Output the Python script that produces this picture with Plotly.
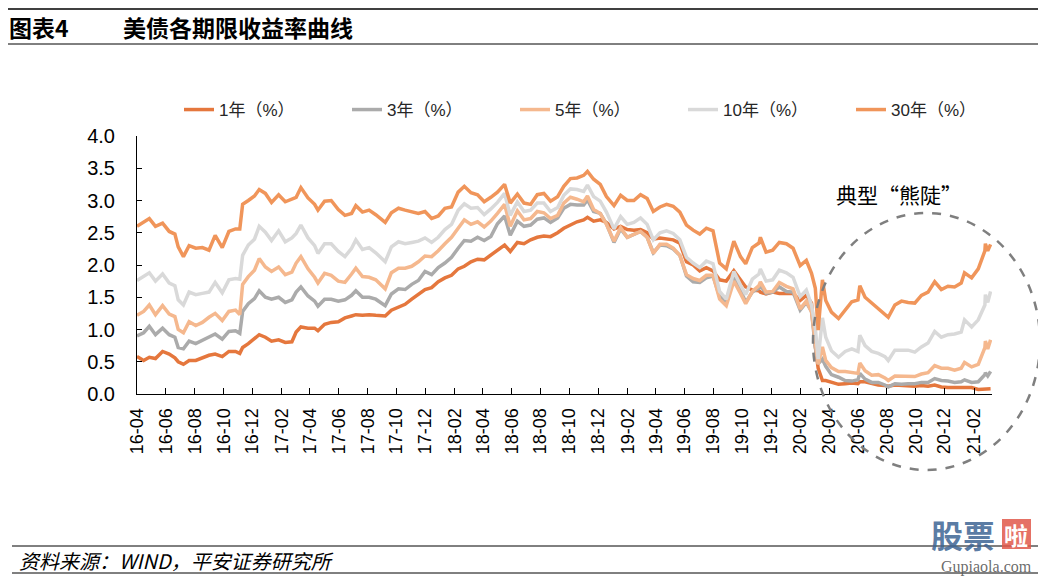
import plotly.graph_objects as go

dates = [
    "2016-04-01", "2016-04-15", "2016-04-27", "2016-05-10", "2016-05-25", "2016-06-08", "2016-06-20", "2016-06-27",
    "2016-07-08", "2016-07-20", "2016-08-03", "2016-08-17", "2016-08-31", "2016-09-13", "2016-09-28", "2016-10-12",
    "2016-10-26", "2016-11-04", "2016-11-10", "2016-11-22", "2016-12-05", "2016-12-15", "2016-12-28", "2017-01-10",
    "2017-01-25", "2017-02-08", "2017-02-22", "2017-03-03", "2017-03-13", "2017-03-28", "2017-04-11", "2017-04-18",
    "2017-05-02", "2017-05-16", "2017-05-31", "2017-06-14", "2017-06-28", "2017-07-07", "2017-07-21", "2017-08-04",
    "2017-08-18", "2017-09-07", "2017-09-20", "2017-10-05", "2017-10-19", "2017-11-02", "2017-11-16", "2017-11-30",
    "2017-12-14", "2017-12-28", "2018-01-11", "2018-01-25", "2018-02-08", "2018-02-21", "2018-03-07", "2018-03-21",
    "2018-04-04", "2018-04-18", "2018-05-02", "2018-05-17", "2018-05-29", "2018-06-13", "2018-06-27", "2018-07-11",
    "2018-07-25", "2018-08-08", "2018-08-22", "2018-09-06", "2018-09-19", "2018-10-03", "2018-10-17", "2018-10-31",
    "2018-11-08", "2018-11-21", "2018-12-05", "2018-12-18", "2019-01-03", "2019-01-17", "2019-01-31", "2019-02-14",
    "2019-02-28", "2019-03-14", "2019-03-27", "2019-04-10", "2019-04-24", "2019-05-08", "2019-05-22", "2019-06-05",
    "2019-06-19", "2019-07-03", "2019-07-17", "2019-07-31", "2019-08-14", "2019-08-28", "2019-09-13", "2019-09-27",
    "2019-10-08", "2019-10-22", "2019-11-05", "2019-11-08", "2019-11-20", "2019-12-04", "2019-12-18", "2020-01-02",
    "2020-01-16", "2020-01-31", "2020-02-13", "2020-02-24", "2020-03-03", "2020-03-09", "2020-03-18", "2020-03-25",
    "2020-04-06", "2020-04-21", "2020-05-05", "2020-05-19", "2020-06-01", "2020-06-05", "2020-06-16", "2020-06-30",
    "2020-07-14", "2020-07-28", "2020-08-04", "2020-08-18", "2020-09-01", "2020-09-15", "2020-09-29", "2020-10-13",
    "2020-10-27", "2020-11-10", "2020-11-24", "2020-12-08", "2020-12-22", "2021-01-05", "2021-01-12", "2021-01-27",
    "2021-02-10", "2021-02-24", "2021-02-25", "2021-03-02", "2021-03-08",
]

y1 = [
    0.58, 0.52, 0.57, 0.55, 0.66, 0.62, 0.56, 0.50,
    0.46, 0.52, 0.52, 0.56, 0.60, 0.62, 0.58, 0.66,
    0.66, 0.63, 0.72, 0.78, 0.86, 0.92, 0.88, 0.82,
    0.84, 0.80, 0.81, 0.96, 1.04, 1.02, 1.02, 0.98,
    1.08, 1.11, 1.12, 1.18, 1.21, 1.23, 1.22, 1.23,
    1.22, 1.21, 1.30, 1.34, 1.39, 1.47, 1.54, 1.62,
    1.65, 1.74, 1.80, 1.84, 1.94, 1.98, 2.05, 2.09,
    2.08, 2.16, 2.24, 2.31, 2.21, 2.35, 2.33, 2.39,
    2.43, 2.45, 2.44, 2.50, 2.57, 2.62, 2.67, 2.70,
    2.74, 2.68, 2.70, 2.66, 2.56, 2.60, 2.55, 2.54,
    2.55, 2.50, 2.40, 2.42, 2.41, 2.39, 2.34, 2.05,
    2.00, 1.91, 1.96, 1.91, 1.77, 1.75, 1.91, 1.78,
    1.66, 1.61, 1.60, 1.58, 1.55, 1.58, 1.56, 1.56,
    1.56, 1.45, 1.53, 1.41, 0.73, 0.40, 0.21, 0.21,
    0.18, 0.15, 0.16, 0.17, 0.16, 0.19, 0.19, 0.16,
    0.14, 0.13, 0.12, 0.14, 0.13, 0.13, 0.12, 0.13,
    0.12, 0.14, 0.11, 0.10, 0.10, 0.10, 0.10, 0.10,
    0.07, 0.08, 0.08, 0.08, 0.08,
]

y3 = [
    0.90, 0.95, 1.05, 0.92, 1.02, 0.92, 0.88, 0.72,
    0.70, 0.82, 0.78, 0.83, 0.88, 0.93, 0.85, 0.97,
    0.98, 0.94, 1.28, 1.40, 1.48, 1.60, 1.50, 1.47,
    1.50, 1.42, 1.46, 1.58, 1.66, 1.52, 1.44, 1.36,
    1.47, 1.47, 1.44, 1.46, 1.53, 1.60, 1.50, 1.50,
    1.47, 1.37, 1.55, 1.63, 1.62, 1.70, 1.76, 1.90,
    1.85, 1.96, 2.03, 2.12, 2.26, 2.38, 2.37, 2.43,
    2.38, 2.44, 2.64, 2.76, 2.46, 2.68, 2.60, 2.62,
    2.71, 2.73, 2.66, 2.73, 2.88, 2.94, 2.93, 2.93,
    3.01, 2.83, 2.80, 2.64, 2.35, 2.56, 2.43, 2.48,
    2.52, 2.43, 2.19, 2.31, 2.30, 2.25, 2.15, 1.83,
    1.74, 1.73, 1.80, 1.83, 1.51, 1.44, 1.80, 1.62,
    1.42, 1.58, 1.64, 1.68, 1.56, 1.58, 1.66, 1.59,
    1.58, 1.30, 1.42, 1.28, 0.73, 0.47, 0.54, 0.43,
    0.30, 0.26, 0.21, 0.20, 0.22, 0.32, 0.23, 0.18,
    0.18, 0.14, 0.11, 0.16, 0.15, 0.16, 0.16, 0.18,
    0.18, 0.24, 0.21, 0.20, 0.18, 0.19, 0.22, 0.18,
    0.19, 0.30, 0.33, 0.28, 0.35,
]

y5 = [
    1.22, 1.28, 1.38, 1.23, 1.37, 1.24, 1.20, 1.00,
    0.95, 1.12, 1.06, 1.11, 1.19, 1.25, 1.14, 1.28,
    1.30, 1.23, 1.70, 1.82, 1.92, 2.10, 1.97, 1.90,
    1.97, 1.85, 1.89, 2.03, 2.13, 1.94, 1.81, 1.72,
    1.87, 1.84, 1.75, 1.73, 1.86, 1.95, 1.82, 1.81,
    1.77, 1.63, 1.88, 1.95, 1.95, 1.98, 2.05, 2.14,
    2.13, 2.22, 2.33, 2.43, 2.57, 2.70, 2.63, 2.67,
    2.59, 2.68, 2.80, 2.94, 2.60, 2.84, 2.70, 2.72,
    2.83, 2.81, 2.72, 2.77, 2.96, 3.05, 3.02, 2.98,
    3.07, 2.86, 2.80, 2.63, 2.37, 2.58, 2.43, 2.48,
    2.52, 2.43, 2.18, 2.32, 2.32, 2.26, 2.15, 1.85,
    1.79, 1.76, 1.84, 1.84, 1.47, 1.37, 1.75, 1.56,
    1.40, 1.59, 1.68, 1.74, 1.58, 1.59, 1.73, 1.67,
    1.63, 1.32, 1.44, 1.27, 0.75, 0.46, 0.73, 0.52,
    0.41, 0.35, 0.35, 0.33, 0.32, 0.48, 0.36, 0.29,
    0.30, 0.25, 0.21, 0.28, 0.28, 0.27, 0.27, 0.31,
    0.33, 0.44, 0.40, 0.40, 0.37, 0.40, 0.49, 0.42,
    0.46, 0.72, 0.82, 0.70, 0.84,
]

y10 = [
    1.76, 1.82, 1.88, 1.75, 1.86, 1.72, 1.68, 1.46,
    1.38, 1.58, 1.54, 1.56, 1.58, 1.73, 1.57, 1.77,
    1.79, 1.78, 2.15, 2.31, 2.40, 2.60, 2.51, 2.38,
    2.53, 2.36, 2.42, 2.49, 2.62, 2.42, 2.30, 2.18,
    2.33, 2.33, 2.21, 2.13, 2.26, 2.39, 2.24, 2.27,
    2.19, 2.05, 2.28, 2.36, 2.33, 2.35, 2.37, 2.42,
    2.35, 2.43, 2.55, 2.63, 2.85, 2.95, 2.88, 2.89,
    2.78, 2.87, 2.97, 3.11, 2.77, 2.98, 2.83, 2.85,
    2.96, 2.96, 2.83, 2.89, 3.08, 3.18, 3.17, 3.14,
    3.24, 3.06, 2.99, 2.82, 2.56, 2.75, 2.63, 2.66,
    2.73, 2.63, 2.39, 2.50, 2.53, 2.49, 2.39, 2.12,
    2.03, 1.96, 2.06, 2.02, 1.59, 1.47, 1.90, 1.69,
    1.54, 1.78, 1.86, 1.94, 1.75, 1.77, 1.92, 1.88,
    1.81, 1.51, 1.61, 1.38, 1.02, 0.54, 1.18, 0.88,
    0.67, 0.57, 0.66, 0.70, 0.66, 0.91, 0.75, 0.66,
    0.63, 0.58, 0.52, 0.68, 0.68, 0.68, 0.65, 0.73,
    0.79, 0.97, 0.88, 0.92, 0.93, 0.96, 1.15, 1.04,
    1.15, 1.38, 1.54, 1.42, 1.59,
]

y30 = [
    2.60, 2.66, 2.72, 2.60, 2.65, 2.52, 2.48, 2.28,
    2.13, 2.30, 2.26, 2.27, 2.23, 2.46, 2.27, 2.52,
    2.56, 2.56, 2.94, 3.00, 3.07, 3.17, 3.11, 2.97,
    3.09, 2.98, 3.02, 3.05, 3.20, 3.04, 2.94, 2.85,
    2.99, 3.00, 2.86, 2.77, 2.80, 2.92, 2.82, 2.85,
    2.78, 2.66, 2.81, 2.88, 2.85, 2.83, 2.80, 2.83,
    2.72, 2.76, 2.88, 2.90, 3.13, 3.22, 3.12, 3.09,
    2.98, 3.05, 3.13, 3.25, 2.96, 3.10, 2.96, 2.94,
    3.09, 3.11, 2.99, 3.06, 3.22, 3.34, 3.35, 3.39,
    3.45, 3.33, 3.25, 3.06, 2.92, 3.08, 3.00, 3.00,
    3.09, 3.03, 2.83, 2.90, 2.94, 2.91, 2.82, 2.62,
    2.54, 2.48, 2.57, 2.53, 2.03, 1.94, 2.37, 2.13,
    2.02, 2.27, 2.34, 2.43, 2.20, 2.23, 2.35, 2.33,
    2.26, 1.99, 2.07, 1.87, 1.64, 0.99, 1.77, 1.45,
    1.27, 1.17, 1.31, 1.43, 1.46, 1.68, 1.50, 1.41,
    1.33, 1.24, 1.19, 1.38, 1.44, 1.42, 1.41, 1.53,
    1.58, 1.74, 1.62, 1.67, 1.66, 1.72, 1.88, 1.80,
    1.94, 2.22, 2.33, 2.22, 2.32,
]

series_names = ["1年（%）", "3年（%）", "5年（%）", "10年（%）", "30年（%）"]
series_values = [y1, y3, y5, y10, y30]
series_colors = ["#E5773D", "#ABABAB", "#F5B88E", "#D9D9D9", "#F0955A"]

tick_font = "Liberation Sans, Arial, Noto Sans CJK SC, sans-serif"
cjk_font = "Noto Sans CJK SC, Liberation Sans, sans-serif"

fig = go.Figure()
for name, vals, col in zip(series_names, series_values, series_colors):
    fig.add_trace(go.Scatter(x=dates, y=vals, name=name, mode="lines",
                             line=dict(color=col, width=3.5)))

# the page body adds an 8px margin, so the figure is laid out 8px up/left
OFF = 8
FIG_W, FIG_H = 1046 - OFF, 580 - OFF
# plot area in reference (screen) pixels
L, R, T, B = 137, 992, 136, 394
W, H = R - L, B - T


def px(x):
    return (x - L) / W


def py(y):
    return (B - y) / H


shapes = [
    dict(type="line", xref="paper", yref="paper", x0=px(5), x1=px(1042), y0=py(9), y1=py(9),
         line=dict(color="#000000", width=1.5)),
    dict(type="line", xref="paper", yref="paper", x0=px(5), x1=px(1042), y0=py(44), y1=py(44),
         line=dict(color="#000000", width=1)),
    dict(type="line", xref="paper", yref="paper", x0=px(12), x1=px(1042), y0=py(546), y1=py(546),
         line=dict(color="#000000", width=1)),
    dict(type="line", xref="paper", yref="paper", x0=px(12), x1=px(1042), y0=py(573), y1=py(573),
         line=dict(color="#000000", width=1)),
    dict(type="circle", xref="paper", yref="paper", x0=px(813), x1=px(1040), y0=py(470), y1=py(213),
         line=dict(color="#7F7F7F", width=2.5, dash="dash")),
    dict(type="rect", xref="paper", yref="paper", x0=px(1002), x1=px(1031), y0=py(549), y1=py(519),
         line=dict(width=0), fillcolor="rgba(224,88,74,0.85)"),
]

annotations = [
    dict(text="<b>图表4</b>", x=px(7), y=py(27), xref="paper", yref="paper", xanchor="left", yanchor="middle",
         showarrow=False, font=dict(family=cjk_font, size=23, color="#000000")),
    dict(text="<b>美债各期限收益率曲线</b>", x=px(121), y=py(27), xref="paper", yref="paper", xanchor="left",
         yanchor="middle", showarrow=False, font=dict(family=cjk_font, size=23, color="#000000")),
    dict(text="<i>资料来源：WIND，平安证券研究所</i>", x=px(17), y=py(560), xref="paper", yref="paper",
         xanchor="left", yanchor="middle", showarrow=False, font=dict(family=cjk_font, size=20, color="#000000")),
    dict(text="典型“熊陡”", x=px(899), y=py(194), xref="paper", yref="paper", xanchor="center",
         yanchor="middle", showarrow=False, font=dict(family=cjk_font, size=21, color="#000000")),
    dict(text="<b>股票</b>", x=px(963), y=py(534), xref="paper", yref="paper", xanchor="center",
         yanchor="middle", showarrow=False, font=dict(family=cjk_font, size=32, color="rgba(61,100,148,0.85)")),
    dict(text="<b>啦</b>", x=px(1016), y=py(534), xref="paper", yref="paper", xanchor="center",
         yanchor="middle", showarrow=False, font=dict(family=cjk_font, size=24, color="#FFFFFF")),
    dict(text="Gupiaola.com", x=px(986), y=py(567), xref="paper", yref="paper", xanchor="center",
         yanchor="middle", showarrow=False, font=dict(family="Liberation Serif, DejaVu Serif, serif", size=16,
                                                      color="rgba(90,90,90,0.9)")),
]

fig.update_layout(
    width=FIG_W, height=FIG_H,
    margin=dict(l=L - OFF, r=FIG_W - (R - OFF), t=T - OFF, b=FIG_H - (B - OFF), pad=0),
    paper_bgcolor="#FFFFFF", plot_bgcolor="#FFFFFF",
    showlegend=True,
    legend=dict(orientation="h", x=px(179), y=py(110), xanchor="left", yanchor="middle",
                entrywidth=123, entrywidthmode="pixels", tracegroupgap=0,
                font=dict(family=tick_font, size=17, color="#262626"), bgcolor="rgba(0,0,0,0)"),
    xaxis=dict(type="date", range=["2016-04-01", "2021-03-11"], tick0="2016-04-01", dtick="M2",
               tickformat="%y-%m", tickangle=-90, ticks="inside", ticklen=6, tickcolor="#000000",
               showline=True, linecolor="#000000", linewidth=1, showgrid=False, zeroline=False,
               tickfont=dict(family=tick_font, size=18, color="#000000"), ticklabelstandoff=6),
    yaxis=dict(range=[0, 4], dtick=0.5, tick0=0, tickformat=".1f", ticks="inside", ticklen=5,
               tickcolor="#000000", showline=True, linecolor="#000000", linewidth=1, showgrid=False,
               zeroline=False, tickfont=dict(family=tick_font, size=20, color="#000000"),
               ticklabelstandoff=17),
    shapes=shapes,
    annotations=annotations,
)

fig.write_html("out.html")
